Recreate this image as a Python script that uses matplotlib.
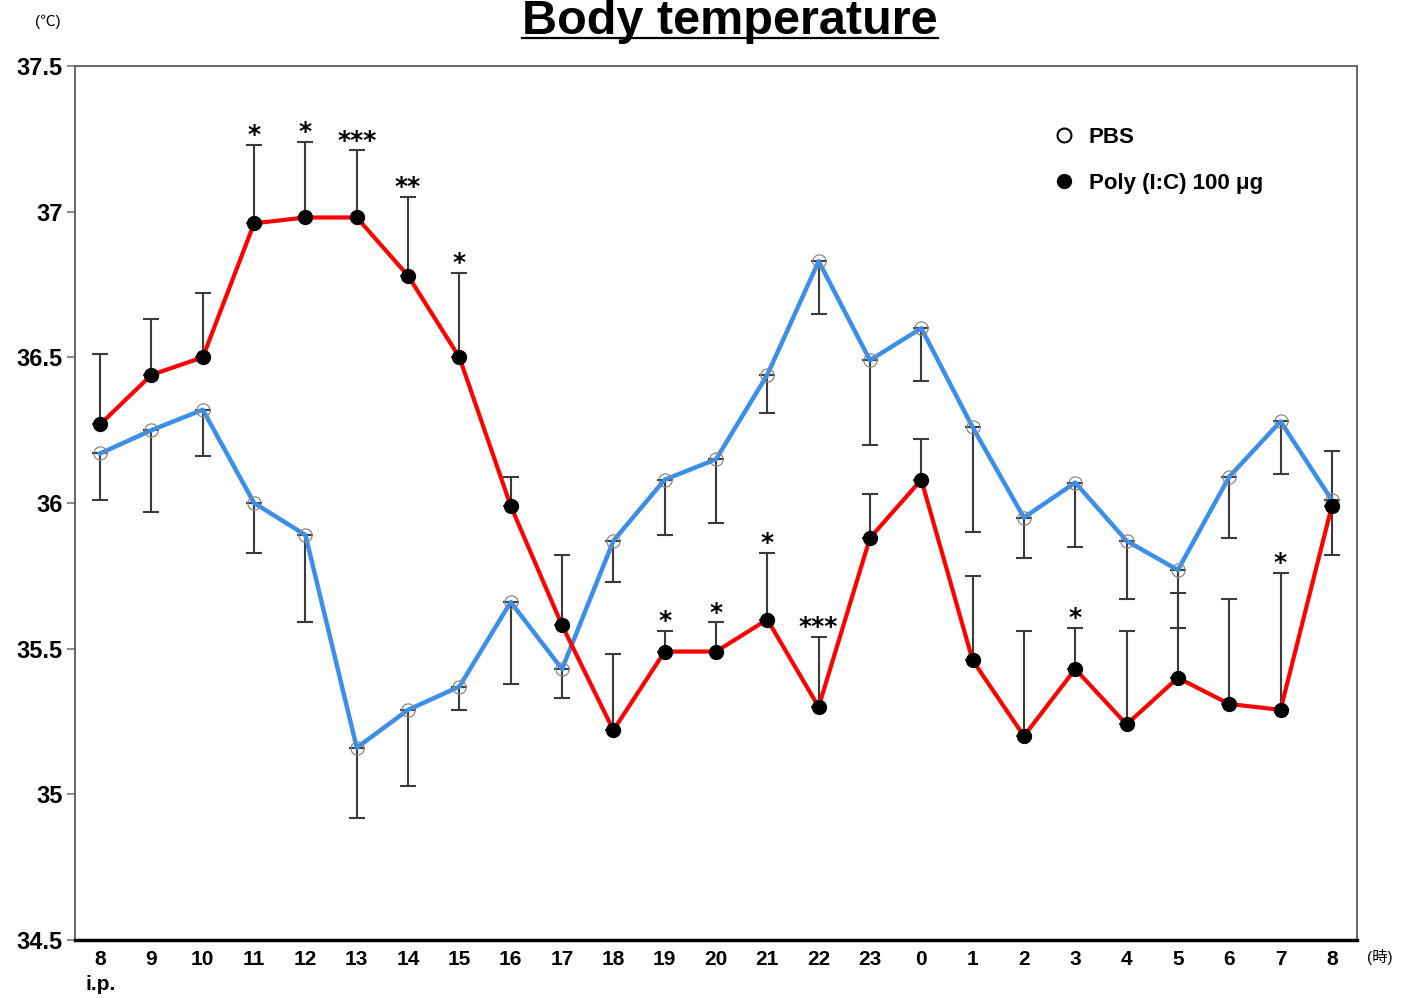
import numpy as np
import matplotlib.pyplot as plt
from matplotlib.lines import Line2D

hours = ['8', '9', '10', '11', '12', '13', '14', '15', '16', '17', '18', '19',
         '20', '21', '22', '23', '0', '1', '2', '3', '4', '5', '6', '7', '8']

pbs = [36.17, 36.25, 36.32, 36.00, 35.89, 35.16, 35.29, 35.37, 35.66, 35.43,
       35.87, 36.08, 36.15, 36.44, 36.83, 36.49, 36.60, 36.26, 35.95, 36.07,
       35.87, 35.77, 36.09, 36.28, 36.01]
pbs_err = [0.16, 0.28, 0.16, 0.17, 0.30, 0.24, 0.26, 0.08, 0.28, 0.10,
           0.14, 0.19, 0.22, 0.13, 0.18, 0.29, 0.18, 0.36, 0.14, 0.22,
           0.20, 0.20, 0.21, 0.18, 0.19]

polyic = [36.27, 36.44, 36.50, 36.96, 36.98, 36.98, 36.78, 36.50, 35.99, 35.58,
          35.22, 35.49, 35.49, 35.60, 35.30, 35.88, 36.08, 35.46, 35.20, 35.43,
          35.24, 35.40, 35.31, 35.29, 35.99]
polyic_err = [0.24, 0.19, 0.22, 0.27, 0.26, 0.23, 0.27, 0.29, 0.10, 0.24,
              0.26, 0.07, 0.10, 0.23, 0.24, 0.15, 0.14, 0.29, 0.36, 0.14,
              0.32, 0.29, 0.36, 0.47, 0.19]

# significance marks above the Poly(I:C) error bars
sig = {3: '*', 4: '*', 5: '***', 6: '**', 7: '*', 11: '*', 12: '*',
       13: '*', 14: '***', 19: '*', 23: '*'}

yticks = [34.5, 35, 35.5, 36, 36.5, 37, 37.5]
ytick_labels = ['34.5', '35', '35.5', '36', '36.5', '37', '37.5']

plt.rcParams['font.family'] = ['Liberation Sans', 'Noto Sans CJK JP', 'DejaVu Sans']

fig = plt.figure(figsize=(14.02, 9.98), dpi=100)
ax = fig.add_axes([75/1402, 58/998, 1282/1402, 874/998])

x = np.arange(len(hours))
zeros = np.zeros(len(hours))
errc = '#3a3a3a'

ax.errorbar(x, pbs, yerr=[pbs_err, zeros], fmt='none', ecolor=errc,
            elinewidth=1.5, capsize=6, capthick=1.5, zorder=2)
ax.errorbar(x, polyic, yerr=[zeros, polyic_err], fmt='none', ecolor=errc,
            elinewidth=1.5, capsize=6, capthick=1.5, zorder=2)

ax.plot(x, pbs, color='#3b8eea', lw=3.2, zorder=3)
ax.plot(x, pbs, ls='none', marker='o', ms=9.5, mfc='none', mec='#888888',
        mew=0.9, zorder=4)
ax.plot(x, polyic, color='#ff0000', lw=3.0, zorder=3)
ax.plot(x, polyic, ls='none', marker='o', ms=10, mfc='black', mec='black',
        zorder=4)

for i, s in sig.items():
    ax.annotate(s, (x[i], polyic[i] + polyic_err[i]), xytext=(0, 2),
                textcoords='offset points', ha='center', va='baseline',
                fontsize=18, fontweight='bold', family='DejaVu Sans')

ax.set_xlim(-0.49, 24.49)
ax.set_ylim(34.5, 37.5)
ax.set_xticks(x, hours, fontsize=15, fontweight='bold')
ax.set_yticks(yticks, ytick_labels, fontsize=17, fontweight='bold')
ax.tick_params(axis='x', length=0, pad=7)
ax.tick_params(axis='y', length=6, width=1.2, color='#777777', pad=3)

for side in ['left', 'top', 'right']:
    ax.spines[side].set_color('#666666')
    ax.spines[side].set_linewidth(1.4)
ax.spines['bottom'].set_color('black')
ax.spines['bottom'].set_linewidth(2.5)

ax.text(0, -0.04, 'i.p.', transform=ax.get_xaxis_transform(), ha='center',
        va='top', fontsize=15, fontweight='bold')
ax.text(24.93, -0.0195, '(時)', transform=ax.get_xaxis_transform(),
        ha='center', va='center', fontsize=11)
fig.text(48/1402, 1 - 22/998, '(℃)', ha='center', va='center', fontsize=11)

fig.text(730/1402, 1 - 34/998, 'Body temperature', ha='center',
         va='baseline', fontsize=35, fontweight='bold')
fig.add_artist(Line2D([522/1402, 938/1402], [1 - 38/998, 1 - 38/998],
                      color='black', lw=1.6))

handles = [Line2D([], [], ls='none', marker='o', ms=10, mfc='white',
                  mec='black', mew=1.5),
           Line2D([], [], ls='none', marker='o', ms=10, mfc='black',
                  mec='black')]
ax.legend(handles, ['PBS', 'Poly (I:C) 100 \u03bcg'], loc='upper left',
          bbox_to_anchor=(0.763, 0.93), frameon=False, borderpad=0,
          borderaxespad=0, handlelength=1.0, handletextpad=0.6,
          labelspacing=1.1, prop={'size': 16, 'weight': 'bold'})

fig.savefig('out.png', dpi=100)
